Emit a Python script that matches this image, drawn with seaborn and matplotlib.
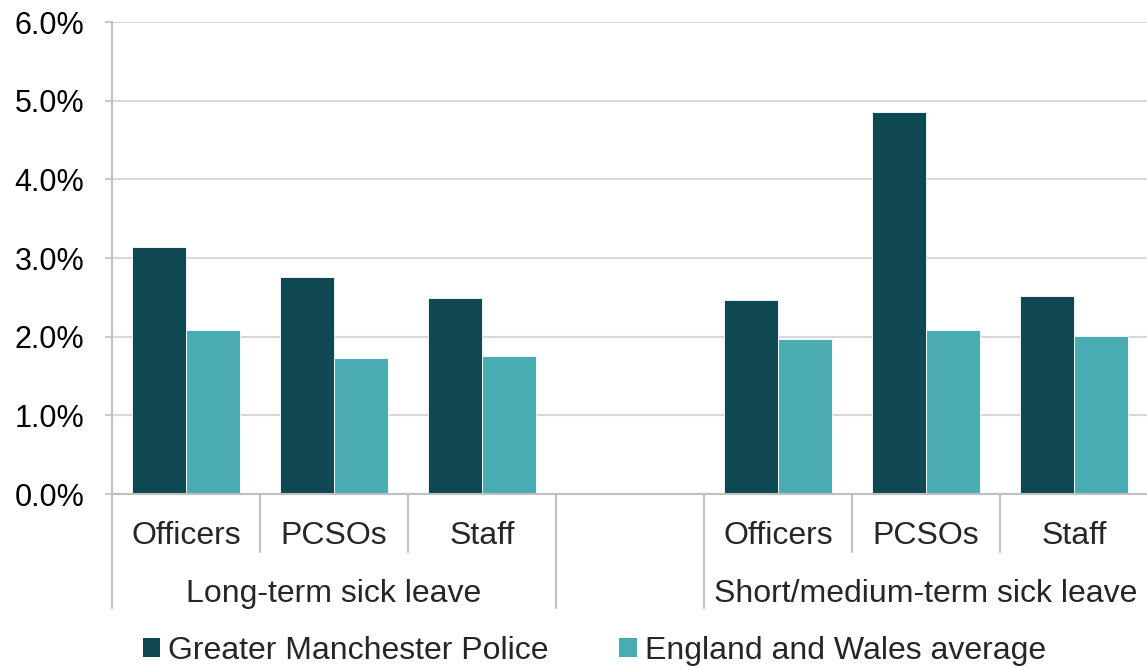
import matplotlib
matplotlib.use("Agg")
import matplotlib.pyplot as plt
import matplotlib.transforms as mtransforms
from matplotlib.patches import Patch
import seaborn as sns
import pandas as pd

# Sick leave rates (% of working time) by workforce group
groups = ["Long-term sick leave", "Short/medium-term sick leave"]
roles = ["Officers", "PCSOs", "Staff"]
series_names = ["Greater Manchester Police", "England and Wales average"]
gmp_long = [3.14, 2.76, 2.49]
ew_long = [2.08, 1.73, 1.75]
gmp_short = [2.47, 4.86, 2.52]
ew_short = [1.97, 2.09, 2.01]
y_ticks = [0, 1, 2, 3, 4, 5, 6]

colors = ["#0F4753", "#48ACB2"]
grid_color = "#D9D9D9"
axis_color = "#BFBFBF"

sns.set_theme(style="white")
plt.rcParams["font.family"] = ["Liberation Sans", "DejaVu Sans"]

# Build the long-form table; a blank slot separates the two groups
rows = []
for g, gmp, ew in [(groups[0], gmp_long, ew_long), (groups[1], gmp_short, ew_short)]:
    for r, a, b in zip(roles, gmp, ew):
        key = f"{g}|{r}"
        rows.append({"slot": key, "series": series_names[0], "rate": a})
        rows.append({"slot": key, "series": series_names[1], "rate": b})
df = pd.DataFrame(rows)
order = [f"{groups[0]}|{r}" for r in roles] + ["gap"] + [f"{groups[1]}|{r}" for r in roles]

W, H = 1147, 668
fig = plt.figure(figsize=(W / 100, H / 100), dpi=100)
ax = fig.add_axes([112 / W, (668 - 494) / H, (1148 - 112) / W, (494 - 22) / H])

sns.barplot(data=df, x="slot", y="rate", hue="series", order=order,
            hue_order=series_names, palette=colors, saturation=1, width=0.73,
            edgecolor="white", linewidth=0.6, ax=ax, legend=False)

ax.set_xlim(-0.5, len(order) - 0.5)
ax.set_ylim(0, 6)
ax.set_yticks(y_ticks)
ax.set_yticklabels([f"{v:.1f}%" for v in y_ticks], fontsize=22, color="black")
ax.yaxis.grid(True, color=grid_color, linewidth=1.5)
ax.set_axisbelow(True)
ax.tick_params(axis="y", which="both", left=True, length=5, width=1.2,
               color=axis_color, pad=15)
ax.set_xticks([])
ax.set_xlabel("")
ax.set_ylabel("")
for s in ["top", "right"]:
    ax.spines[s].set_visible(False)
for s in ["left", "bottom"]:
    ax.spines[s].set_color(axis_color)
    ax.spines[s].set_linewidth(1.5)

# Two-level category axis drawn below the plot
trans = mtransforms.blended_transform_factory(ax.transData, ax.transAxes)
inner_y, outer_y = -0.089, -0.212
short_len, long_len = -0.123, -0.2415
line_kw = dict(color=axis_color, linewidth=1.5, clip_on=False, transform=trans)

for i, key in enumerate(order):
    if key == "gap":
        continue
    ax.text(i, inner_y, key.split("|")[1], ha="center", va="center",
            fontsize=23, transform=trans)

# separators between roles (short) and between groups (long)
for b in [0.5, 1.5, 4.5, 5.5]:
    ax.plot([b, b], [0, short_len], **line_kw)
for b in [-0.5, 2.5, 3.5, 6.5]:
    ax.plot([b, b], [0, long_len], **line_kw)

ax.text(1, outer_y, groups[0], ha="center", va="center", fontsize=23, transform=trans)
ax.text(5, outer_y, groups[1], ha="center", va="center", fontsize=23, transform=trans)

handles = [Patch(facecolor=c, edgecolor="none") for c in colors]
fig.legend(handles, series_names, loc="center", bbox_to_anchor=(0.518, 1 - 651 / H),
           ncol=2, frameon=False, fontsize=23, handlelength=0.55, handleheight=0.55,
           handletextpad=0.25, columnspacing=2.2, borderaxespad=0)

fig.savefig("out.png", dpi=100)
